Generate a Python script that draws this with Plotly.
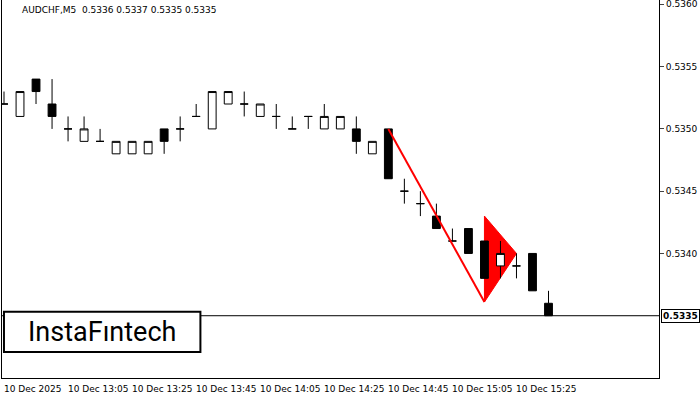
import plotly.graph_objects as go

idx = list(range(35))
opens  = [.5352,.5351,.5354,.5352,.5350,.5349,.5349,.5348,.5348,.5348,.5350,.5350,.5351,.5350,.5352,.5352,.5351,.5351,.5350,.5351,.5350,.5350,.5350,.5348,.5350,.5345,.5344,.5343,.5341,.5342,.5341,.5339,.5339,.5340,.5336]
highs  = [.5353,.5353,.5354,.5354,.5351,.5351,.5350,.5349,.5349,.5349,.5350,.5351,.5352,.5353,.5353,.5353,.5352,.5352,.5351,.5351,.5352,.5351,.5351,.5349,.5350,.5346,.5345,.5344,.5342,.5342,.5341,.5341,.5340,.5340,.5337]
lows   = [.5352,.5351,.5352,.5350,.5349,.5349,.5349,.5348,.5348,.5348,.5348,.5349,.5351,.5350,.5352,.5351,.5351,.5350,.5350,.5350,.5350,.5350,.5348,.5348,.5346,.5344,.5343,.5342,.5341,.5340,.5338,.5338,.5338,.5337,.5335]
closes = [.5352,.5353,.5353,.5351,.5350,.5350,.5349,.5349,.5349,.5349,.5349,.5350,.5351,.5353,.5353,.5352,.5352,.5351,.5350,.5351,.5351,.5351,.5349,.5349,.5346,.5345,.5344,.5342,.5341,.5340,.5338,.5340,.5339,.5337,.5335]
time_idx = [0,4,8,12,16,20,24,28,32]
time_labels = ["10 Dec 2025","10 Dec 13:05","10 Dec 13:25","10 Dec 13:45","10 Dec 14:05",
               "10 Dec 14:25","10 Dec 14:45","10 Dec 15:05","10 Dec 15:25"]
price_ticks = [0.5340,0.5345,0.5350,0.5355,0.5360]
pole_x = [24, 30]; pole_y = [0.5350, 0.53361]
flag_x = [30, 30, 32]; flag_y = [0.5343, 0.53361, 0.5340]
last_price = 0.5335

fig = go.Figure()
path = "M " + " L ".join(f"{x},{y}" for x, y in zip(flag_x, flag_y)) + " Z"
fig.add_shape(type="path", path=path, xref="x", yref="y", fillcolor="red",
              line=dict(color="red", width=1), layer="below")
fig.add_trace(go.Candlestick(x=idx, open=opens, high=highs, low=lows, close=closes,
    increasing=dict(line=dict(color="black", width=1), fillcolor="white"),
    decreasing=dict(line=dict(color="black", width=1), fillcolor="black"),
    whiskerwidth=0))
fig.add_trace(go.Scatter(x=pole_x, y=pole_y, mode="lines", line=dict(color="red", width=2), hoverinfo="skip"))
fig.add_hline(y=last_price, line=dict(color="black", width=1))

for i, t in zip(time_idx, time_labels):
    fig.add_annotation(x=i, y=0, xref="x", yref="paper", text=t, showarrow=False,
                       xanchor="left", yanchor="top", yshift=-4, xshift=-2,
                       font=dict(size=9, color="black", family="DejaVu Sans"))
fig.add_annotation(x=1, y=last_price, xref="paper", yref="y", text="<b>0.5335</b>", showarrow=False,
                   xanchor="left", xshift=2, bgcolor="white", bordercolor="black", borderwidth=1,
                   borderpad=1, font=dict(size=9, color="black", family="DejaVu Sans"))
fig.add_annotation(x=1, y=price_ticks[-1], xref="paper", yref="y", text=f"{price_ticks[-1]:.4f}",
                   showarrow=False, xanchor="left", yanchor="middle", xshift=5,
                   font=dict(size=9, color="black", family="DejaVu Sans"))
fig.add_annotation(x=0.027, y=1, xref="paper", yref="paper", text="AUDCHF,M5  0.5336 0.5337 0.5335 0.5335",
                   showarrow=False, xanchor="left", yanchor="top", yshift=-3,
                   font=dict(size=9, color="black", family="DejaVu Sans"))
fig.add_shape(type="rect", xref="paper", yref="paper", x0=0.003, x1=0.302, y0=0.069, y1=0.175,
              line=dict(color="black", width=2), fillcolor="white")
fig.add_annotation(x=0.152, y=0.122, xref="paper", yref="paper", text="InstaFıntech", showarrow=False,
                   xanchor="center", yanchor="middle",
                   font=dict(size=27, color="black", family="Roboto"))

fig.update_layout(width=700, height=400, margin=dict(l=2, r=41, t=0, b=22),
    paper_bgcolor="white", plot_bgcolor="white", showlegend=False,
    xaxis=dict(range=[-0.125, 40.9], showgrid=False, rangeslider=dict(visible=False),
               showticklabels=False, showline=True, linecolor="black", mirror=True, ticks=""),
    yaxis=dict(range=[0.53300, 0.536035], side="right", tickvals=price_ticks,
               ticktext=[f"{v:.4f}" for v in price_ticks[:-1]] + [""], showgrid=False, ticks="outside",
               ticklen=4, showline=True, linecolor="black", mirror=True,
               tickfont=dict(size=9, color="black", family="DejaVu Sans")))
fig.write_html("out.html", config={"displayModeBar": False},
               post_script="document.body.style.margin='0';")
